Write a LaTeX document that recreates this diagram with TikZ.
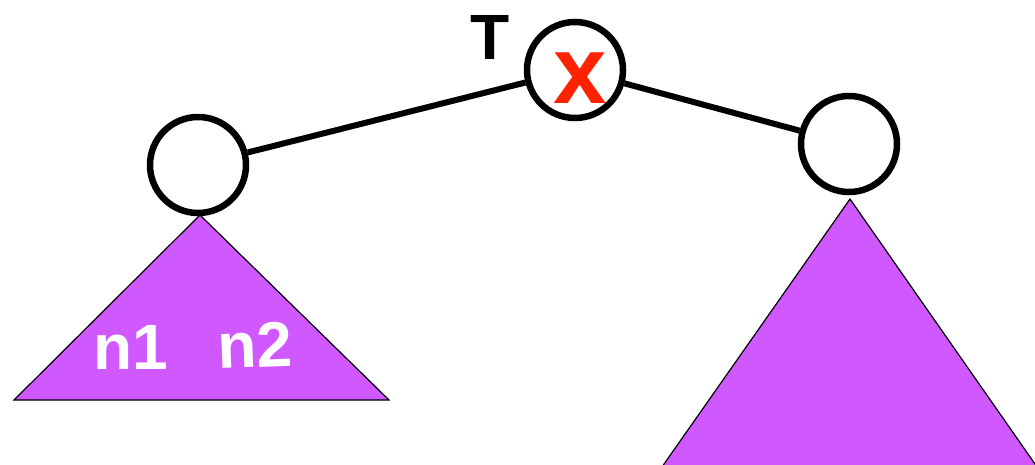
\documentclass[tikz,border=0pt]{standalone}
\usepackage{fontspec}
\setmainfont{Liberation Sans}
\definecolor{tripurple}{RGB}{208,88,255}
\definecolor{xred}{RGB}{255,34,0}
\begin{document}
\begin{tikzpicture}[x=1pt,y=-1pt,
  treenode/.style={circle,draw=black,line width=6.5pt,fill=white,minimum size=96pt,inner sep=0pt},
  edge/.style={line width=6pt},
  subtree/.style={fill=tripurple,draw=black,line width=1.2pt},
  bigtext/.style={font=\fontsize{64}{64}\selectfont\bfseries,inner sep=0pt}]
\useasboundingbox (0,0) rectangle (1035,464);
\begin{scope}
\clip (0,0) rectangle (1035,464);
\draw[subtree] (14,400) -- (200,215) -- (389,400) -- cycle;
\draw[subtree] (850,199) -- (850-186*1.2,199+265*1.2) -- (850+185*1.2,199+265*1.2) -- cycle;
\end{scope}
\node[treenode] (top) at (575,70) {};
\node[treenode] (left) at (198,165) {};
\node[treenode] (right) at (849,144) {};
\draw[edge] (left) -- (top);
\draw[edge] (top) -- (right);
\node[bigtext,text=white] (n1) at (131,347) {n1};
\node[bigtext,text=white,rotate=2] (n2) at (255,345) {n2};
\node[bigtext] (T) at (490,37) {T};
\node[font=\fontsize{96}{96}\selectfont\bfseries,text=xred,inner sep=0pt] (x) at (580,78) {x};
\end{tikzpicture}
\end{document}
